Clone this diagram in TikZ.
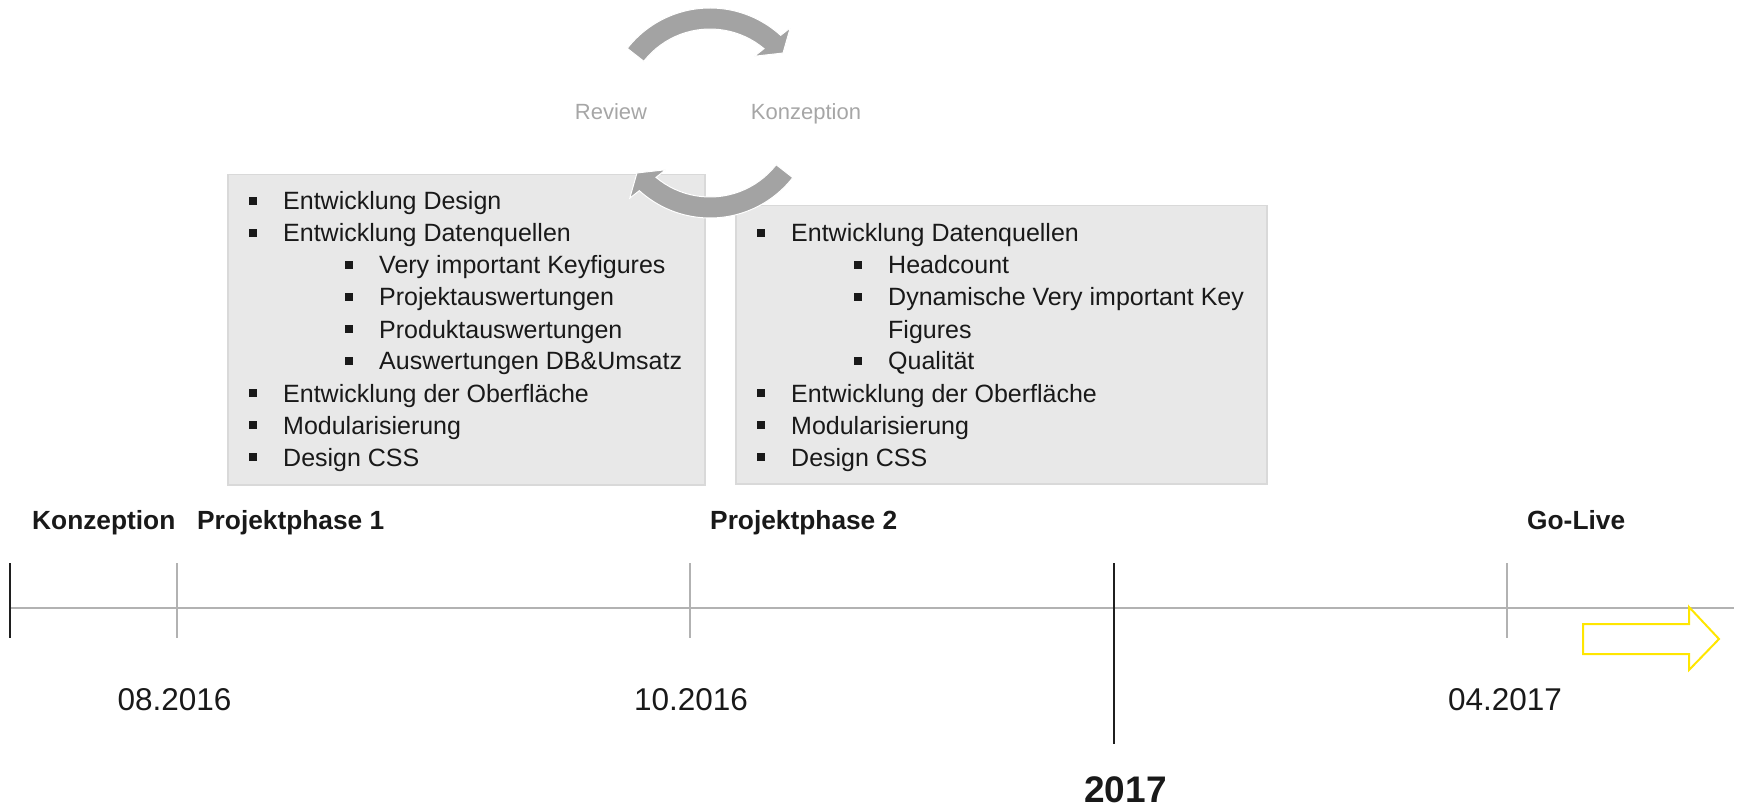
\documentclass[tikz,border=0pt]{standalone}
\usepackage{fontspec}
\setmainfont{Liberation Sans}
\definecolor{golive}{HTML}{FFE600}
\begin{document}
\begin{tikzpicture}[x=1pt,y=-1pt,
        box/.style={draw=black!15,fill=black!9,line width=1.5pt,anchor=north west,inner sep=0},
        item/.style={anchor=base west,inner sep=0,text=black!90,font=\fontsize{25}{32}\selectfont},
        bul/.style={fill=black!90,inner sep=0,minimum size=7.5pt},
        phase/.style={anchor=base west,inner sep=0,text=black!90,font=\fontsize{26.3}{30}\selectfont\bfseries},
        date/.style={anchor=base,inner sep=0,text=black!90,font=\fontsize{31.5}{36}\selectfont},
        cyc/.style={anchor=base,inner sep=0,text=black!35,font=\fontsize{22}{26}\selectfont}]
    \useasboundingbox (0,0) rectangle (1738,810);
    % boxes
    \node[box,minimum width=477pt,minimum height=310pt] (P1) at (227,174) {};
    \node[box,minimum width=531pt,minimum height=278pt] (P2) at (735,205) {};
    \foreach \lv/\yy/\txt [count=\i] in {1/210/Entwicklung Design,1/242/Entwicklung Datenquellen,
            2/274/Very important Keyfigures,2/306/Projektauswertungen,2/338/Produktauswertungen,
            2/370/Auswertungen DB\&Umsatz,1/402/Entwicklung der Oberfläche,1/434/Modularisierung,1/466/Design CSS}{
        \node[item] (l\i) at ({283+(\lv-1)*96},\yy) {\txt};
        \node[bul] (lb\i) at ({253+(\lv-1)*96},{\yy-9}) {};
    }
    \foreach \lv/\yy/\txt [count=\i] in {1/242/Entwicklung Datenquellen,2/274/Headcount,
            2/306/Dynamische Very important Key,2/370/Qualität,1/402/Entwicklung der Oberfläche,
            1/434/Modularisierung,1/466/Design CSS}{
        \node[item] (r\i) at ({791+(\lv-1)*97},\yy) {\txt};
        \node[bul] (rb\i) at ({761+(\lv-1)*97},{\yy-9}) {};
    }
    \node[item] (r3b) at (888,338) {Figures};
    % review cycle
    \foreach \rot in {0,180}
        \fill[black!36,draw=white,line width=1pt,shift={(710,113)},yscale=-1,rotate=\rot]
            (142:105) arc[start angle=142,end angle=47.7,radius=105] -- (46.7:117) -- (39.4:94.5)
            -- (52:72) -- (50:84) arc[start angle=50,end angle=142,radius=84] -- cycle;
    \node[cyc] (rev) at (611,120) {Review};
    \node[cyc] (konz) at (806,120) {Konzeption};
    % timeline
    \coordinate (t0) at (10,608);
    \coordinate (t1) at (1734,608);
    \draw[black!30,line width=2pt] (t0) -- (t1);
    \foreach \x in {177,690,1507}
        \draw[black!30,line width=2pt] (\x,563) -- (\x,638);
    \draw[black!88,line width=2.2pt] (10,563) -- (10,638);
    \draw[black!88,line width=2.2pt] (1114,563) -- (1114,744);
    \node[phase] (k) at (32,529) {Konzeption};
    \node[phase] (p1) at (197,529) {Projektphase 1};
    \node[phase] (p2) at (710,529) {Projektphase 2};
    \node[phase] (gl) at (1527,529) {Go-Live};
    \node[date] (d1) at (174.5,710) {08.2016};
    \node[date] (d2) at (691,710) {10.2016};
    \node[date] (d3) at (1505,710) {04.2017};
    \node[anchor=base,inner sep=0,text=black!90,font=\fontsize{37}{40}\selectfont\bfseries] (y) at (1125.5,802) {2017};
    \draw[golive,line width=2pt] (1583,624) -- (1689,624) -- (1689,607) -- (1719,639)
        -- (1689,670) -- (1689,654) -- (1583,654) -- cycle;
\end{tikzpicture}
\end{document}
